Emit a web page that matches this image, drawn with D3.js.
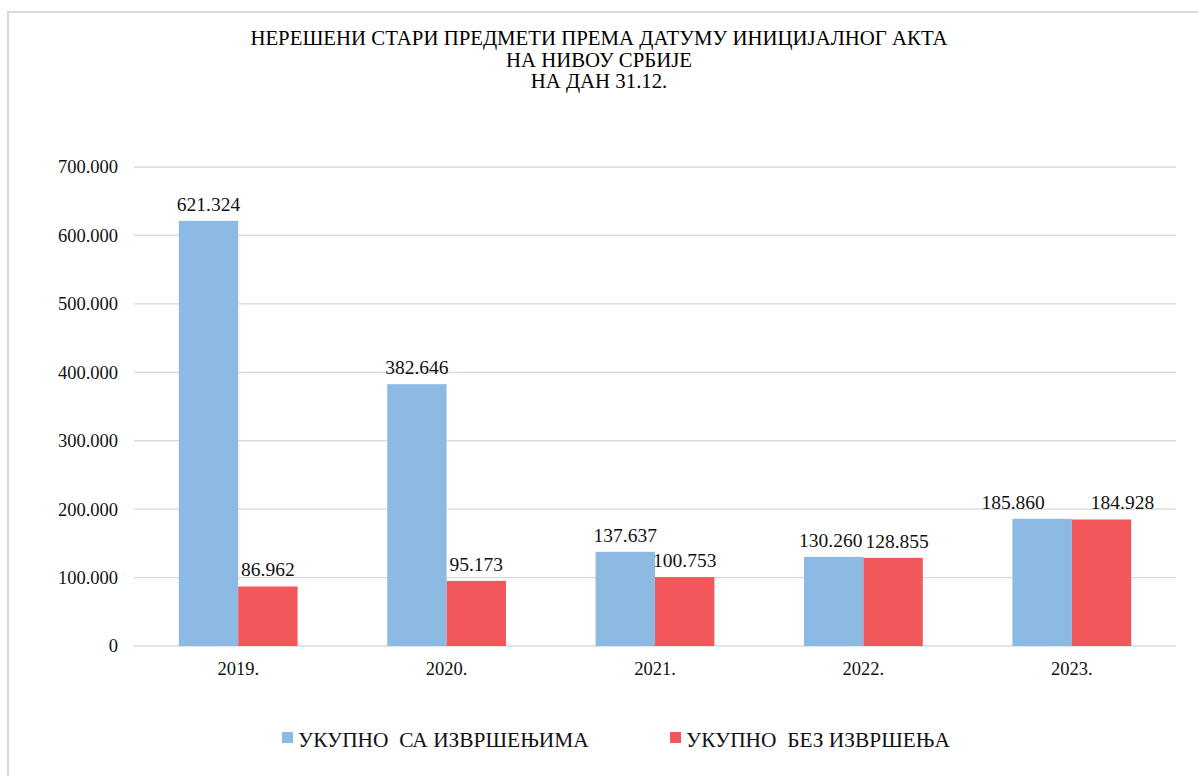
<!DOCTYPE html>
<html><head><meta charset="utf-8">
<script src="https://cdn.jsdelivr.net/npm/d3@7"></script>
<style>
html,body{margin:0;padding:0;background:#fff;}
</style></head>
<body><svg id="c" width="1198" height="776" font-family="Liberation Serif"></svg>
<script>
const titleLines = ["НЕРЕШЕНИ СТАРИ ПРЕДМЕТИ ПРЕМА ДАТУМУ ИНИЦИЈАЛНОГ АКТА","НА НИВОУ СРБИЈЕ","НА ДАН 31.12."];
const categories = ["2019.","2020.","2021.","2022.","2023."];
const seriesNames = ["УКУПНО  СА ИЗВРШЕЊИМА","УКУПНО  БЕЗ ИЗВРШЕЊА"];
const withExec = [621324, 382646, 137637, 130260, 185860];
const withoutExec = [86962, 95173, 100753, 128855, 184928];
const yTicks = [0,100000,200000,300000,400000,500000,600000,700000];
const colors = ["#8DBAE2","#F2585B"];
// label nudges (style only) per series per category
const labelDx = [[0,0,0,-3,-29],[0,0,0,4,21]];

const FF = "Liberation Serif";
const svg = d3.select("#c");
const W=1198,H=776;
const loc = d3.formatLocale({decimal:",",thousands:".",grouping:[3],currency:["",""]});
const fmt = loc.format(",d");

// frame
svg.append("path").attr("d",`M8,${H}V12H${W}`).attr("fill","none").attr("stroke","#d9d9d9").attr("stroke-width",2);

// title
const t = svg.append("text").attr("text-anchor","middle").attr("font-family",FF).attr("font-size",20.8).attr("fill","#000");
titleLines.forEach((s,i)=>t.append("tspan").attr("x",599).attr("y",45+i*21.5).text(s));

const m={l:134,r:1176,t:167,b:646};
const x0 = d3.scaleBand().domain(categories).range([m.l,m.r]).paddingInner(0.43).paddingOuter(0.215);
const x1 = d3.scaleBand().domain([0,1]).range([0,x0.bandwidth()]);
const y = d3.scaleLinear().domain([0,700000]).range([m.b,m.t]);

// grid
svg.append("g").selectAll("line").data(yTicks).join("line")
  .attr("x1",m.l).attr("x2",m.r).attr("y1",d=>y(d)).attr("y2",d=>y(d))
  .attr("stroke","#d9d9d9").attr("stroke-width",1.3);

// y axis labels
const ya = svg.append("g").attr("transform",`translate(${m.l},0)`)
  .call(d3.axisLeft(y).tickValues(yTicks).tickFormat(d=>d===0?"0":fmt(d)).tickSize(0).tickPadding(16));
ya.select(".domain").remove();
ya.attr("font-family",FF);
ya.selectAll("text").attr("font-size",18.5).attr("font-family",FF).attr("fill","#111");

// x axis labels
const xa = svg.append("g").attr("transform",`translate(0,${m.b})`)
  .call(d3.axisBottom(x0).tickSize(0).tickPadding(16));
xa.select(".domain").remove();
xa.attr("font-family",FF);
xa.selectAll("text").attr("font-size",18.5).attr("font-family",FF).attr("fill","#111");

const series=[withExec,withoutExec];
const g = svg.append("g");
series.forEach((vals,si)=>{
  const data = categories.map((c,i)=>({c,v:vals[i],dx:labelDx[si][i]}));
  g.append("g").selectAll("rect").data(data).join("rect")
    .attr("x",d=>x0(d.c)+x1(si)).attr("width",x1.bandwidth())
    .attr("y",d=>y(d.v)).attr("height",d=>y(0)-y(d.v))
    .attr("fill",colors[si]);
  g.append("g").selectAll("text").data(data).join("text")
    .attr("x",d=>x0(d.c)+x1(si)+x1.bandwidth()/2+d.dx).attr("y",d=>y(d.v)-10)
    .attr("text-anchor","middle").attr("font-family",FF).attr("font-size",19.5).attr("fill","#111")
    .text(d=>fmt(d.v));
});

// legend
const lx=[282,670];
seriesNames.forEach((n,i)=>{
  svg.append("rect").attr("x",lx[i]).attr("y",732).attr("width",11).attr("height",11).attr("fill",colors[i]);
  svg.append("text").attr("x",lx[i]+16).attr("y",747).attr("font-family",FF).attr("font-size",21.4).attr("fill","#111")
    .attr("xml:space","preserve").style("white-space","pre").text(n);
});
</script></body></html>
